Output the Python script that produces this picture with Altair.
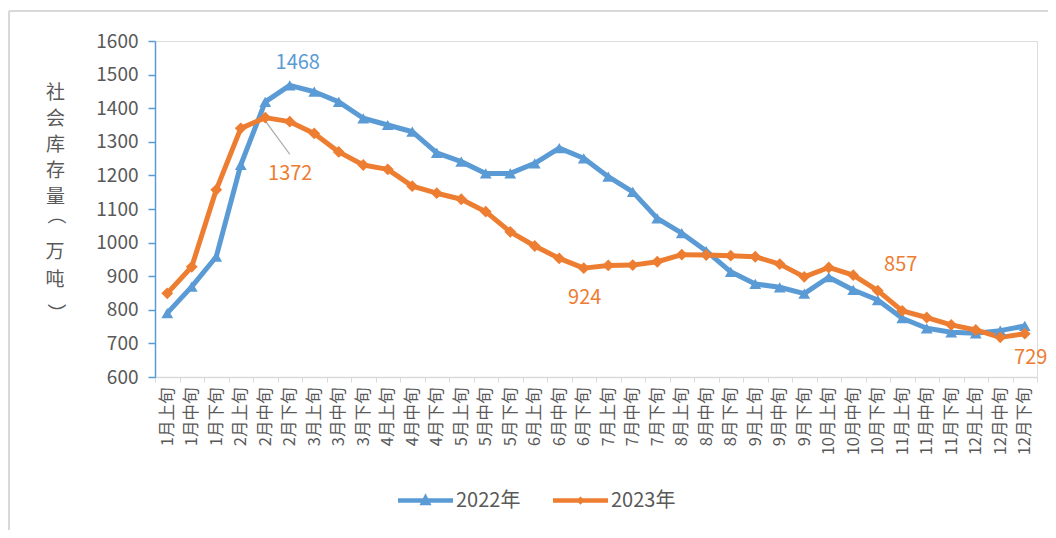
import altair as alt
import pandas as pd

categories = [
    "1月上旬", "1月中旬", "1月下旬", "2月上旬", "2月中旬", "2月下旬",
    "3月上旬", "3月中旬", "3月下旬", "4月上旬", "4月中旬", "4月下旬",
    "5月上旬", "5月中旬", "5月下旬", "6月上旬", "6月中旬", "6月下旬",
    "7月上旬", "7月中旬", "7月下旬", "8月上旬", "8月中旬", "8月下旬",
    "9月上旬", "9月中旬", "9月下旬", "10月上旬", "10月中旬", "10月下旬",
    "11月上旬", "11月中旬", "11月下旬", "12月上旬", "12月中旬", "12月下旬",
]
values_2022 = [790, 869, 958, 1231, 1419, 1468, 1449, 1419, 1370, 1350, 1330, 1267,
               1241, 1206, 1206, 1236, 1281, 1251, 1196, 1151, 1072, 1028, 975, 913,
               877, 867, 848, 897, 859, 829, 775, 745, 733, 730, 738, 752]
values_2023 = [849, 928, 1157, 1340, 1372, 1360, 1325, 1270, 1231, 1218, 1168, 1147,
               1129, 1092, 1032, 990, 953, 924, 932, 933, 943, 964, 963, 961,
               958, 936, 898, 926, 903, 857, 797, 777, 755, 740, 718, 729]
series = ["2022年", "2023年"]
colors = ["#5B9BD5", "#ED7D31"]
markers = ["triangle-up", "diamond"]
y_ticks = [600, 700, 800, 900, 1000, 1100, 1200, 1300, 1400, 1500, 1600]
y_title_top = ["社", "会", "库", "存", "量"]
y_title_rest = ["万", "吨"]
paren_chars = ["（", "）"]

# annotations: category, value, text, colour, dx, dy
annotations = [
    ("2月下旬", 1468, "1468", "#5B9BD5", 8, -22),
    ("2月中旬", 1372, "1372", "#ED7D31", 25, 56),
    ("6月下旬", 924, "924", "#ED7D31", 1, 30),
    ("10月下旬", 857, "857", "#ED7D31", 23, -26),
    ("12月下旬", 729, "729", "#ED7D31", 6, 24),
]
leader_cats = ["2月中旬", "2月下旬"]
leader_vals = [1362, 1263]

FONT = "Noto Sans CJK SC"
GRAY = "#595959"

rows = []
for c, v in zip(categories, values_2022):
    rows.append({"cat": c, "v": v, "year": series[0]})
for c, v in zip(categories, values_2023):
    rows.append({"cat": c, "v": v, "year": series[1]})
df = pd.DataFrame(rows)

xenc = alt.X(
    "cat:N", sort=categories,
    scale=alt.Scale(type="band", domain=categories, paddingInner=0, paddingOuter=0),
    axis=alt.Axis(title=None, labelAngle=270, tickBand="extent", domainColor="#D9D9D9",
                  tickColor="#D9D9D9", tickSize=5, labelPadding=5, labelFontSize=16.5,
                  labelColor=GRAY, labelFont=FONT, domainWidth=1.5),
)
yenc = alt.Y(
    "v:Q",
    scale=alt.Scale(domain=[600, 1600], nice=False, zero=False),
    axis=alt.Axis(values=y_ticks, format="d", grid=False, domainColor="#5B9BD5",
                  tickColor="#5B9BD5", domainWidth=1.5, tickWidth=1.5, tickSize=7,
                  labelPadding=10, labelFontSize=19, labelColor=GRAY, labelFont=FONT,
                  title=y_title_top, titleAngle=0, titleX=-100, titleY=51,
                  titleBaseline="middle", titleAlign="center", titleLineHeight=26,
                  titleFontSize=19, titleFontWeight="normal", titleColor=GRAY,
                  titleFont=FONT),
)

color_scale = alt.Scale(domain=series, range=colors)

lines = alt.Chart(df).mark_line(strokeWidth=5, strokeJoin="round").encode(
    x=xenc, y=yenc,
    color=alt.Color("year:N", scale=color_scale, legend=None),
)

point_layers = []
for s, col, mk in zip(series, colors, markers):
    point_layers.append(
        alt.Chart(df).transform_filter(alt.datum.year == s).mark_point(
            filled=True, opacity=1, size=140, shape=mk, color=col
        ).encode(x=xenc, y=yenc)
    )

legend_paths = [
    "M-1,-0.08L1,-0.08L1,0.08L-1,0.08Z M-0.22,0.17L0,-0.26L0.22,0.17Z",
    "M-1,-0.08L1,-0.08L1,0.08L-1,0.08Z M-0.15,0L0,-0.15L0.15,0L0,0.15Z",
]
legend_x = [243, 398]

# one single-entry legend per series
legend_layers = []
for s, col, path, lx in zip(series, colors, legend_paths, legend_x):
    leg = alt.Legend(title=None, orient="none", direction="horizontal",
                     legendX=lx, legendY=432, symbolSize=3025,
                     symbolOpacity=1, symbolStrokeWidth=0, symbolFillColor=col,
                     labelFontSize=20, labelColor=GRAY, labelFont=FONT,
                     labelOffset=3, padding=0)
    legend_layers.append(
        alt.Chart(df).transform_filter(alt.datum.year == s).mark_point(
            filled=True, opacity=0, color=col
        ).encode(
            x=xenc, y=yenc,
            shape=alt.Shape("year:N", scale=alt.Scale(domain=[s], range=[path]), legend=leg),
        )
    )

leader_df = pd.DataFrame({"cat": leader_cats, "v": leader_vals})
leader = alt.Chart(leader_df).mark_line(color="#A6A6A6", strokeWidth=1.2).encode(x=xenc, y=yenc)

text_layers = []
for c, v, t, col, dx, dy in annotations:
    adf = pd.DataFrame({"cat": [c], "v": [v], "t": [t]})
    text_layers.append(
        alt.Chart(adf).mark_text(font=FONT, fontSize=20, color=col, dx=dx, dy=dy,
                                 baseline="middle", align="center").encode(
            x=xenc, y=yenc, text="t:N")
    )

# rest of the vertical y title: 万, 吨 and the rotated brackets
title_layers = []
for ch, ypix in zip(y_title_rest, [211, 239]):
    title_layers.append(
        alt.Chart(pd.DataFrame({"t": [ch]})).mark_text(
            font=FONT, fontSize=19, color=GRAY, align="center", baseline="middle"
        ).encode(x=alt.value(-100), y=alt.value(ypix), text="t:N")
    )
for ch, ypix in zip(paren_chars, [174, 272]):
    title_layers.append(
        alt.Chart(pd.DataFrame({"t": [ch]})).mark_text(
            font=FONT, fontSize=19, color=GRAY, angle=90, align="center", baseline="middle"
        ).encode(x=alt.value(-100), y=alt.value(ypix), text="t:N")
    )

frame_left = alt.Chart(pd.DataFrame({"a": [0]})).mark_rule(color="#D9D9D9", strokeWidth=2).encode(
    x=alt.value(-146), y=alt.value(-30), y2=alt.value(500))
frame_top = alt.Chart(pd.DataFrame({"a": [0]})).mark_rule(color="#D9D9D9", strokeWidth=2).encode(
    x=alt.value(-146), x2=alt.value(900), y=alt.value(-30))

chart = alt.layer(frame_left, frame_top, leader, lines, *point_layers, *legend_layers,
                  *text_layers, *title_layers).resolve_scale(
    shape="independent"
).resolve_legend(
    shape="independent"
).properties(
    width=882, height=336,
    autosize=alt.AutoSizeParams(type="none"),
    padding={"left": 147, "top": 33, "right": 11, "bottom": 153},
).configure_view(stroke=None).configure(background="white")

chart.save("out.html", embed_options={"renderer": "svg", "actions": False})
